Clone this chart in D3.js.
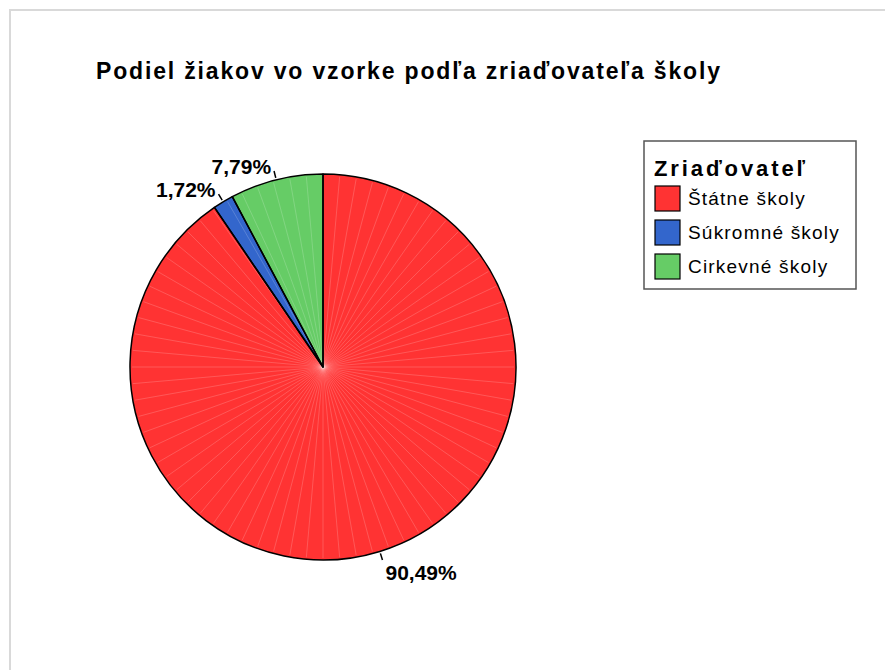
<!DOCTYPE html>
<html>
<head>
<meta charset="utf-8">
<script src="https://cdn.jsdelivr.net/npm/d3@7"></script>
<style>
  body { margin: 0; background: #fff; }
  text { font-family: Arial, "Liberation Sans", sans-serif; }
</style>
</head>
<body>
<div id="chart"></div>
<script>
const categories = ["Štátne školy", "Súkromné školy", "Cirkevné školy"];
const shares = [90.49, 1.72, 7.79];
const shareLabels = ["90,49%", "1,72%", "7,79%"];
const colors = ["#ff3333", "#3366cc", "#66cc66"];

const width = 885, height = 670;
const svg = d3.select("#chart").append("svg")
  .attr("width", width)
  .attr("height", height);

// okraj (len hore a vľavo)
svg.append("path")
  .attr("d", `M10,${height} L10,10 L${width},10`)
  .attr("fill", "none")
  .attr("stroke", "#d9d9d9")
  .attr("stroke-width", 2);

// nadpis
svg.append("text")
  .attr("x", 96)
  .attr("y", 79)
  .attr("textLength", 624)
  .attr("lengthAdjust", "spacing")
  .style("font-size", "23px")
  .style("font-weight", "bold")
  .text("Podiel žiakov vo vzorke podľa zriaďovateľa školy");

// kolac
const cx = 323, cy = 367, r = 193;
const g = svg.append("g").attr("transform", `translate(${cx},${cy})`);

const pie = d3.pie().sort(null).value(d => d);
const arcs = pie(shares);
const arc = d3.arc().innerRadius(0).outerRadius(r);

g.selectAll("path.slice")
  .data(arcs)
  .join("path")
  .attr("class", "slice")
  .attr("d", arc)
  .attr("fill", (d, i) => colors[i]);

// jemne radialne linky (vzhlad povodneho grafu)
const rays = d3.range(0, 360, 5);
g.selectAll("line.ray")
  .data(rays)
  .join("line")
  .attr("class", "ray")
  .attr("x1", 0).attr("y1", 0)
  .attr("x2", a => Math.sin(a * Math.PI / 180) * (r - 2))
  .attr("y2", a => -Math.cos(a * Math.PI / 180) * (r - 2))
  .attr("stroke", "#fff")
  .attr("stroke-opacity", 0.18)
  .attr("stroke-width", 1);

// obrys rezov
g.selectAll("path.edge")
  .data(arcs)
  .join("path")
  .attr("class", "edge")
  .attr("d", arc)
  .attr("fill", "none")
  .attr("stroke", "#000")
  .attr("stroke-width", 1.5)
  .attr("stroke-linejoin", "round");

// popisky
const tickIn = d3.arc().innerRadius(r + 2).outerRadius(r + 2);
const tickOut = d3.arc().innerRadius(r + 9).outerRadius(r + 9);

arcs.forEach((d, i) => {
  const a = (d.startAngle + d.endAngle) / 2;
  const p1 = tickIn.centroid(d), p2 = tickOut.centroid(d);
  g.append("line")
    .attr("x1", p1[0]).attr("y1", p1[1])
    .attr("x2", p2[0]).attr("y2", p2[1])
    .attr("stroke", "#000").attr("stroke-width", 1.5);
  const right = Math.sin(a) > 0;
  const lower = Math.cos(a) < 0;
  g.append("text")
    .attr("x", p2[0] + (right ? 3 : -3))
    .attr("y", p2[1] + (lower ? 20 : 3))
    .attr("text-anchor", right ? "start" : "end")
    .style("font-size", "21px")
    .style("font-weight", "bold")
    .text(shareLabels[i]);
});

// legenda
const lx = 644, ly = 141;
svg.append("rect")
  .attr("x", lx).attr("y", ly)
  .attr("width", 212).attr("height", 148)
  .attr("fill", "#fff")
  .attr("stroke", "#555")
  .attr("stroke-width", 1.5);

svg.append("text")
  .attr("x", lx + 10).attr("y", ly + 35)
  .attr("textLength", 151)
  .attr("lengthAdjust", "spacing")
  .style("font-size", "22px")
  .style("font-weight", "bold")
  .text("Zriaďovateľ");

const item = svg.selectAll("g.item")
  .data(categories)
  .join("g")
  .attr("class", "item")
  .attr("transform", (d, i) => `translate(${lx + 11},${ly + 45 + i * 34})`);

item.append("rect")
  .attr("width", 25).attr("height", 25)
  .attr("fill", (d, i) => colors[i])
  .attr("stroke", "#000")
  .attr("stroke-width", 1.2);

item.append("text")
  .attr("x", 33).attr("y", 19)
  .style("font-size", "19px")
  .style("letter-spacing", "1.2px")
  .text(d => d);
</script>
</body>
</html>
